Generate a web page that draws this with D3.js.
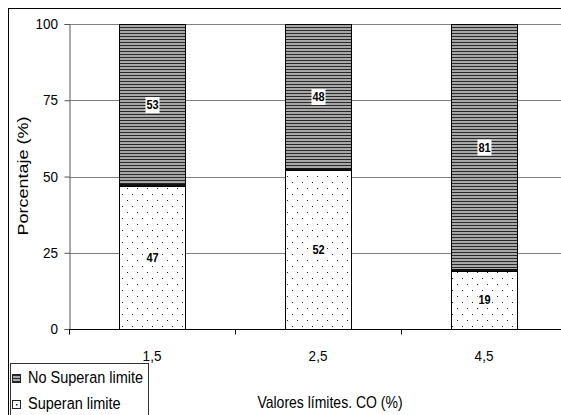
<!DOCTYPE html>
<html>
<head>
<meta charset="utf-8">
<script src="https://cdn.jsdelivr.net/npm/d3@7"></script>
<style>
  body { margin: 0; background: white; }
  text { font-family: "Liberation Sans", Arial, sans-serif; }
</style>
</head>
<body>
<script>
// datos
const categories = ["1,5", "2,5", "4,5"];
const superan = [47, 52, 19];
const noSuperan = [53, 48, 81];
const yTicks = [0, 25, 50, 75, 100];

const svg = d3.select("body").append("svg").attr("width", 561).attr("height", 415);
const defs = svg.append("defs");

// texto algo estirado en vertical, como en el original
function label(parent, x, y, txt, size, anchor, sy) {
    return parent.append("text")
        .attr("transform", `translate(${x},${y}) scale(1,${sy || 1.12})`)
        .attr("text-anchor", anchor || "start")
        .attr("font-size", size).text(txt);
}

// rayas horizontales
const stripes = defs.append("pattern").attr("id", "stripes")
    .attr("patternUnits", "userSpaceOnUse").attr("width", 8).attr("height", 3);
stripes.append("rect").attr("width", 8).attr("height", 3).attr("fill", "#a8a8a8");
stripes.append("rect").attr("width", 8).attr("height", 1).attr("fill", "#2a2a2a");

// puntos
const dots = defs.append("pattern").attr("id", "dots")
    .attr("patternUnits", "userSpaceOnUse").attr("width", 10).attr("height", 12);
dots.append("rect").attr("width", 10).attr("height", 12).attr("fill", "white");
dots.append("rect").attr("x", 2).attr("y", 2).attr("width", 1).attr("height", 1).attr("fill", "#222");
dots.append("rect").attr("x", 7).attr("y", 8).attr("width", 1).attr("height", 1).attr("fill", "#222");

// borde exterior
svg.append("rect").attr("x", 8.5).attr("y", 8.5).attr("width", 600).attr("height", 500)
    .attr("fill", "white").attr("stroke", "black");

const plotLeft = 69, plotTop = 24, plotBottom = 329;
const xScale = d3.scaleBand().domain(categories).range([plotLeft, plotLeft + 166 * 3]).paddingInner(0).paddingOuter(0);
const yScale = d3.scaleLinear().domain([0, 100]).range([plotBottom, plotTop]);
const barW = 66;

// lineas de cuadricula
svg.append("g").selectAll("line").data(yTicks.filter(d => d > 0)).join("line")
    .attr("x1", plotLeft).attr("x2", 561)
    .attr("y1", d => Math.round(yScale(d)) + 0.5).attr("y2", d => Math.round(yScale(d)) + 0.5)
    .attr("stroke", "#808080");

// eje Y
const yAxis = svg.append("g").attr("transform", `translate(${plotLeft + 0.5},0)`)
    .call(d3.axisLeft(yScale).tickValues(yTicks).tickSize(5).tickFormat(""));
yAxis.select(".domain").attr("stroke", "#555");
yAxis.selectAll(".tick line").attr("stroke", "#555");
yTicks.forEach(t => label(svg, 58, yScale(t) + 5, t, 13.5, "end", 1.1));

// barras
const g = svg.append("g");
categories.forEach((c, i) => {
    const x = Math.round(xScale(c) + (xScale.bandwidth() - barW) / 2) + 0.5;
    const ySplit = Math.round(yScale(superan[i]));
    const yTop = Math.round(yScale(superan[i] + noSuperan[i]));
    g.append("rect").attr("x", x).attr("y", ySplit + 0.5)
        .attr("width", barW).attr("height", plotBottom - ySplit)
        .attr("fill", "url(#dots)").attr("stroke", "black");
    g.append("rect").attr("x", x).attr("y", yTop + 0.5)
        .attr("width", barW).attr("height", ySplit - yTop)
        .attr("fill", "url(#stripes)").attr("stroke", "black");
    g.append("line").attr("x1", x).attr("x2", x + barW)
        .attr("y1", ySplit - 1).attr("y2", ySplit - 1)
        .attr("stroke", "#111").attr("stroke-width", 2);

    // etiquetas
    const labels = [
        {v: superan[i], y: (yScale(0) + ySplit) / 2},
        {v: noSuperan[i], y: (ySplit + yTop) / 2}
    ];
    labels.forEach(l => {
        const cx = x + barW / 2;
        g.append("rect").attr("x", cx - 7).attr("y", l.y - 8).attr("width", 14).attr("height", 16)
            .attr("fill", "white");
        label(g, cx, l.y + 4, l.v, 11, "middle", 1.15).attr("font-weight", "bold");
    });
});

// eje X
const xAxis = svg.append("g").attr("transform", `translate(0,${plotBottom + 0.5})`);
xAxis.append("line").attr("x1", plotLeft).attr("x2", 561).attr("stroke", "black");
xAxis.selectAll("line.tk").data(categories).join("line").attr("class", "tk")
    .attr("x1", d => Math.round(xScale(d)) + 0.5).attr("x2", d => Math.round(xScale(d)) + 0.5)
    .attr("y1", 0).attr("y2", 5).attr("stroke", "black");
categories.forEach(c => label(svg, xScale(c) + xScale.bandwidth() / 2, 361, c, 13.5, "middle", 1.1));

// titulos
svg.append("text").attr("transform", "translate(28,176) rotate(-90) scale(1.2,1)")
    .attr("text-anchor", "middle").attr("font-size", 15).text("Porcentaje (%)");
label(svg, 330, 408, "Valores límites. CO (%)", 14, "middle", 1.15);

// leyenda
const leg = svg.append("g");
leg.append("rect").attr("x", 10.5).attr("y", 363.5).attr("width", 138).attr("height", 60)
    .attr("fill", "white").attr("stroke", "#333");
const items = [{t: "No Superan limite", f: "url(#stripes)"}, {t: "Superan limite", f: "white", dot: true}];
items.forEach((it, k) => {
    const yy = 378 + k * 26;
    leg.append("rect").attr("x", 12.5).attr("y", yy - 3.5).attr("width", 8).attr("height", 8)
        .attr("fill", it.f).attr("stroke", "#222");
    if (it.dot) leg.append("rect").attr("x", 16).attr("y", yy).attr("width", 1.5).attr("height", 1.5).attr("fill", "#222");
    label(leg, 28, yy + 5, it.t, 14.5, "start", 1.12);
});
</script>
</body>
</html>
